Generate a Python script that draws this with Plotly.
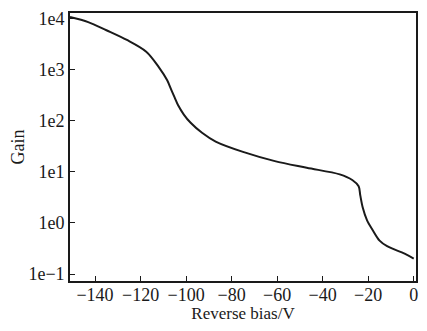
import plotly.graph_objects as go

bias = [-151, -143, -135, -126, -117.5, -112, -108.3, -106.5, -105, -103.5, -101, -98, -93, -87, -75, -61, -47, -32.5, -27, -24.2, -23.5, -22.4, -20.5, -18, -15, -11.7, -4, 0]
gain = [10700, 8510, 5890, 3800, 2240, 1120, 617, 400, 282, 200, 132, 91, 58, 39, 24.5, 16.2, 12, 8.9, 6.9, 5.2, 3.5, 2.0, 1.12, 0.72, 0.45, 0.35, 0.25, 0.20]

y_tickvals = [1e4, 1e3, 1e2, 1e1, 1e0, 1e-1]
y_ticktext = ["1e4", "1e3", "1e2", "1e1", "1e0", "1e\u22121"]
x_tickvals = [-140, -120, -100, -80, -60, -40, -20, 0]

font_family = "Liberation Serif, Times New Roman, serif"

fig = go.Figure()
fig.add_trace(go.Scatter(x=bias, y=gain, mode="lines",
                         line=dict(color="#1a1a1a", width=2, shape="spline", smoothing=0.9),
                         showlegend=False))

# the page body adds an 8px margin, so the figure is sized to fit inside the window
fig.update_layout(
    width=411, height=315,
    margin=dict(l=62, r=3, t=5, b=42),
    paper_bgcolor="white", plot_bgcolor="white",
    font=dict(family=font_family, size=18, color="#1a1a1a"),
)
fig.update_xaxes(range=[-151, 1], tickvals=x_tickvals, ticks="inside", ticklen=5,
                 tickwidth=1.2, tickcolor="#1a1a1a", ticklabelstandoff=-3,
                 showline=True, linecolor="#1a1a1a", linewidth=1.6, mirror=True,
                 showgrid=False, zeroline=False, automargin=False,
                 title=dict(text="Reverse bias/V", standoff=4, font=dict(size=17)))
fig.update_yaxes(type="log", range=[-1.137, 4.108], tickvals=y_tickvals, ticktext=y_ticktext,
                 ticks="inside", ticklen=5, tickwidth=1.2, tickcolor="#1a1a1a",
                 showline=True, linecolor="#1a1a1a", linewidth=1.6, mirror=True,
                 showgrid=False, zeroline=False, automargin=False,
                 title=dict(text="Gain", standoff=6, font=dict(size=18)))

fig.write_html("out.html")
